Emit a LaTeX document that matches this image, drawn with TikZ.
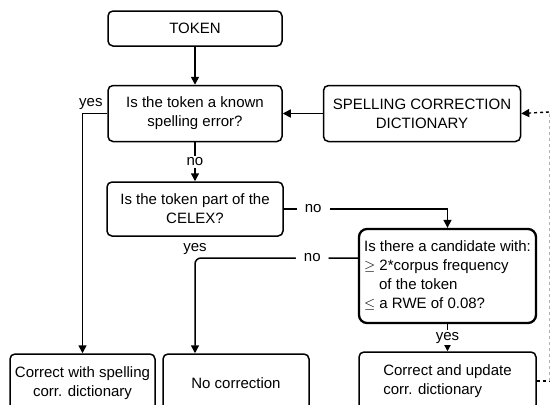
\documentclass[tikz,border=0pt]{standalone}
\usepackage{fontspec}
\setmainfont{Liberation Sans}
\usetikzlibrary{positioning,arrows.meta,calc}

\begin{document}
\begin{tikzpicture}[
    x=1pt, y=1pt,
    font=\fontsize{15}{19}\selectfont,
    box/.style={
        draw,
        rounded corners=5pt,
        line width=1.5pt,
        inner sep=2pt,
        align=center
    },
    query/.style={box, line width=2.3pt, rounded corners=8pt, align=left},
    arrow/.style={-{Triangle[length=8pt,width=8pt]}, line width=1.5pt},
    lbl/.style={fill=white, inner xsep=8pt, inner ysep=2pt},
    back/.style={dashed, line width=1.4pt}
]
\useasboundingbox (0,0) rectangle (550,-405);

\node[box, minimum width=174pt, minimum height=35pt] (token) at (195,-28.5) {TOKEN};
\node[box, minimum width=174pt, minimum height=56pt, below=38pt of token] (known)
    {Is the token a known\\spelling error?};
\node[box, minimum width=197pt, minimum height=56pt, right=40pt of known] (dict)
    {SPELLING CORRECTION\\DICTIONARY};
\node[box, minimum width=176pt, minimum height=54pt, below=39pt of known] (celex)
    {Is the token part of the\\CELEX?};
\node[below=3pt of celex] (yes) {yes};
\node[query, minimum width=177pt, minimum height=94pt] (cand) at (447.5,-276)
    {Is there a candidate with:\\$\geq$ 2*corpus frequency\\\hspace*{15pt}of the token\\$\leq$ a RWE of 0.08?};

% bottom row (cut off by the page)
\node[box, minimum width=145pt, minimum height=58pt] (corrdict) at (82.5,-383)
    {Correct with spelling\\corr. dictionary};
\node[box, minimum width=146pt, minimum height=58pt] (nocorr) at (236,-383)
    {No correction};
\node[box, align=left, minimum width=177pt, minimum height=58pt] (update) at (447.5,-381)
    {Correct and update\\corr. dictionary};

\draw[arrow] (token) -- (known);
\draw[arrow] (dict) -- (known);
\draw[arrow] (known) -- node[lbl, inner xsep=2pt] {no} (celex);
\draw[arrow] (known.west) -| node[pos=0.33, above] {yes} (corrdict.north);
\draw[arrow] (celex.east) -| node[lbl, pos=0.09] {no} (cand.north);
\draw[arrow, rounded corners=6pt] ([yshift=18pt]cand.west)
    -| node[lbl, pos=0.14] {no} (celex.south |- nocorr.north);
\draw[arrow] (cand) -- node[lbl, inner xsep=2pt] {yes} (update);

% update loop back to the dictionary
\coordinate (dtop) at (549,-112);
\draw[back] (update.east) -- (update.east -| dtop);
\draw[back, gray!60, line width=0.9pt] (update.east -| dtop) -- (dtop);
\draw[back, -{Triangle[length=8pt,width=8pt]}] (dtop) -- (dict.east);

\end{tikzpicture}
\end{document}
